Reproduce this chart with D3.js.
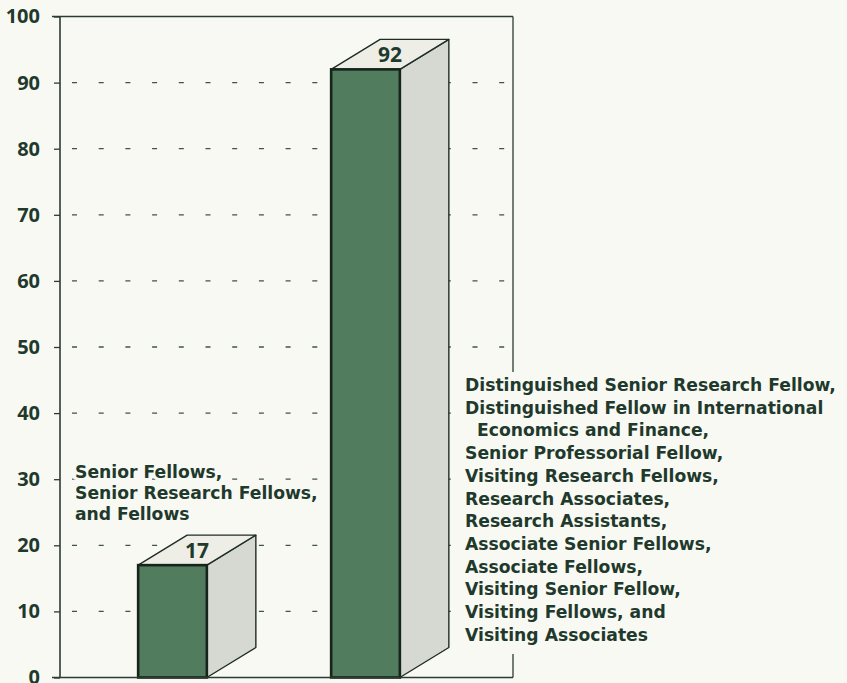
<!DOCTYPE html>
<html>
<head>
<meta charset="utf-8">
<script src="https://cdn.jsdelivr.net/npm/d3@7"></script>
<style>
  body { margin: 0; background: #f9f9f4; }
  svg { display: block; }
  text { font-family: "Open Sans", sans-serif; font-weight: 700; fill: #1f3a2c; }
  .catLabel { font-family: "DejaVu Sans", sans-serif; font-size: 17.2px; }
</style>
</head>
<body>
<svg id="chart"></svg>
<script>
/** Data **/
var categories = ["Fellows", "Other research staff"];
var values = [17, 92];
var yTicks = [0, 10, 20, 30, 40, 50, 60, 70, 80, 90, 100];

var leftLabelLines = [
    "Senior Fellows,",
    "Senior Research Fellows,",
    "and Fellows"
];
var rightLabelLines = [
    "Distinguished Senior Research Fellow,",
    "Distinguished Fellow in International",
    "  Economics and Finance,",
    "Senior Professorial Fellow,",
    "Visiting Research Fellows,",
    "Research Associates,",
    "Research Assistants,",
    "Associate Senior Fellows,",
    "Associate Fellows,",
    "Visiting Senior Fellow,",
    "Visiting Fellows, and",
    "Visiting Associates"
];

var width = 847;
var height = 683;
var bg = "#f9f9f4";
var ink = "#1f3a2c";
var lineCol = "#2b3b34";
var frontCol = "#527c5e";
var sideCol = "#d6d9d2";
var topCol = "#eeeee7";
var depthX = 49;    // 3d offset of the bar
var depthY = -30;

var plotLeft = 60;
var plotRight = 513;

var svg = d3.select("#chart")
    .attr("width", width)
    .attr("height", height);

svg.append("rect")
    .attr("width", width)
    .attr("height", height)
    .attr("fill", bg);

var yScale = d3.scaleLinear()
    .domain([0, 100])
    .range([677.5, 16.5]);

var xScale = d3.scaleBand()
    .domain(categories)
    .range([76, 462])
    .paddingInner(0.644)
    .paddingOuter(0.322);

// Dashed grid lines
svg.append("g")
    .selectAll("line")
    .data(yTicks.filter(function(d) { return d > 0 && d < 100; }))
    .enter()
    .append("line")
    .attr("x1", plotLeft + 12)
    .attr("x2", plotRight)
    .attr("y1", function(d) { return yScale(d); })
    .attr("y2", function(d) { return yScale(d); })
    .attr("stroke", "#3d5547")
    .attr("stroke-width", 1.3)
    .attr("stroke-dasharray", "5,21.7");

// Frame: top line and right border
svg.append("line")
    .attr("x1", plotLeft - 8).attr("x2", plotRight)
    .attr("y1", yScale(100)).attr("y2", yScale(100))
    .attr("stroke", lineCol).attr("stroke-width", 1.3);
svg.append("line")
    .attr("x1", plotRight).attr("x2", plotRight)
    .attr("y1", yScale(100)).attr("y2", yScale(0))
    .attr("stroke", lineCol).attr("stroke-width", 1.3);

// Y axis
var yAxis = d3.axisLeft(yScale)
    .tickValues(yTicks)
    .tickSize(6)
    .tickPadding(14);

var yG = svg.append("g")
    .attr("transform", "translate(" + plotLeft + ",0)")
    .call(yAxis);
yG.select(".domain").remove();
yG.selectAll(".tick line").attr("stroke", lineCol).attr("stroke-width", 1.3);
yG.selectAll(".tick text")
    .attr("fill", ink)
    .style("font-size", "20px")
    .style("font-weight", 700)
    .style("font-family", "'Open Sans', sans-serif");

svg.append("line")
    .attr("x1", plotLeft).attr("x2", plotLeft)
    .attr("y1", yScale(100)).attr("y2", yScale(0))
    .attr("stroke", lineCol).attr("stroke-width", 1.6);

// Bars (side face, top face, front face)
var bars = svg.append("g")
    .selectAll("g")
    .data(categories.map(function(c, i) { return { key: c, value: values[i] }; }))
    .enter()
    .append("g");

bars.append("path")
    .attr("d", function(d) {
        var x1 = xScale(d.key) + xScale.bandwidth();
        var y0 = yScale(0), y1 = yScale(d.value);
        return "M" + x1 + "," + y0 + "L" + (x1 + depthX) + "," + (y0 + depthY) +
            "L" + (x1 + depthX) + "," + (y1 + depthY) + "L" + x1 + "," + y1 + "Z";
    })
    .attr("fill", sideCol)
    .attr("stroke", "#1e2d24")
    .attr("stroke-width", 1.4)
    .attr("stroke-linejoin", "round");

bars.append("path")
    .attr("d", function(d) {
        var x0 = xScale(d.key), x1 = x0 + xScale.bandwidth();
        var y1 = yScale(d.value);
        return "M" + x0 + "," + y1 + "L" + (x0 + depthX) + "," + (y1 + depthY) +
            "L" + (x1 + depthX) + "," + (y1 + depthY) + "L" + x1 + "," + y1 + "Z";
    })
    .attr("fill", topCol)
    .attr("stroke", "#1e2d24")
    .attr("stroke-width", 1.4)
    .attr("stroke-linejoin", "round");

bars.append("rect")
    .attr("x", function(d) { return xScale(d.key); })
    .attr("y", function(d) { return yScale(d.value); })
    .attr("width", xScale.bandwidth())
    .attr("height", function(d) { return yScale(0) - yScale(d.value); })
    .attr("fill", frontCol)
    .attr("stroke", "#17241b")
    .attr("stroke-width", 2.6);

bars.append("text")
    .attr("x", function(d) { return xScale(d.key) + xScale.bandwidth() / 2 + depthX / 2; })
    .attr("y", function(d) { return yScale(d.value) + depthY / 2; })
    .attr("dy", "0.36em")
    .attr("text-anchor", "middle")
    .style("font-size", "21px")
    .text(function(d) { return d.value; });

// Baseline
svg.append("line")
    .attr("x1", plotLeft - 8).attr("x2", plotRight)
    .attr("y1", yScale(0)).attr("y2", yScale(0))
    .attr("stroke", lineCol).attr("stroke-width", 1.6);

// Left category label
svg.append("g")
    .selectAll("text")
    .data(leftLabelLines)
    .enter()
    .append("text")
    .attr("class", "catLabel")
    .attr("x", 75)
    .attr("y", function(d, i) { return 478 + i * 21; })
    .attr("stroke", bg)
    .attr("stroke-width", 6)
    .attr("paint-order", "stroke")
    .text(function(d) { return d; });

// Right category label, on its own background block
svg.append("rect")
    .attr("x", 456)
    .attr("y", 372)
    .attr("width", width - 456)
    .attr("height", 282)
    .attr("fill", bg);

svg.append("g")
    .selectAll("text")
    .data(rightLabelLines)
    .enter()
    .append("text")
    .attr("class", "catLabel")
    .attr("x", 465)
    .attr("y", function(d, i) { return 391 + i * 22.7; })
    .attr("xml:space", "preserve")
    .style("white-space", "pre")
    .text(function(d) { return d; });
</script>
</body>
</html>
